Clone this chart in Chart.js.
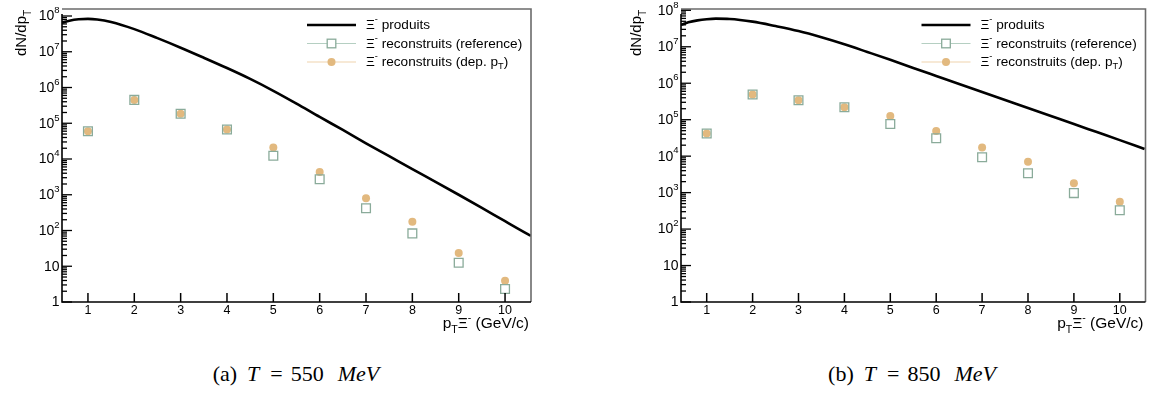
<!DOCTYPE html>
<html>
<head>
<meta charset="utf-8">
<script src="https://cdn.jsdelivr.net/npm/chart.js@4.4.0/dist/chart.umd.min.js"></script>
<style>
  body { margin: 0; background: #fff; width: 1153px; height: 394px; position: relative; overflow: hidden; font-family: "Liberation Sans", Arial, sans-serif; }
  .panel { position: absolute; top: 0; height: 340px; }
  #pa { left: 0; width: 560px; }
  #pb { left: 580px; width: 573px; }
  .cap { position: absolute; top: 361px; font-family: "Liberation Serif", "Times New Roman", serif; font-size: 22px; transform: translateX(-50%); white-space: nowrap; color: #000; }
  .cap i { font-style: italic; }
</style>
</head>
<body>
<div class="panel" id="pa"><canvas id="ca"></canvas></div>
<div class="panel" id="pb"><canvas id="cb"></canvas></div>
<div class="cap" style="left:296px"><span>(a)</span><i style="margin-left:10px">T</i><span style="margin-left:11px">=</span><span style="margin-left:8px">550</span><i style="margin-left:14px">MeV</i></div>
<div class="cap" style="left:912px"><span>(b)</span><i style="margin-left:10px">T</i><span style="margin-left:11px">=</span><span style="margin-left:8px">850</span><i style="margin-left:14px">MeV</i></div>
<script>
// p_T bins of the reconstructed points
const ptX = [1, 2, 3, 4, 5, 6, 7, 8, 9, 10];

// T = 550 MeV
const refA = [6.0e4, 4.5e5, 1.85e5, 6.7e4, 1.23e4, 2.7e3, 420, 83, 12.6, 2.3];
const depA = [6.0e4, 4.5e5, 1.85e5, 6.7e4, 2.1e4, 4.3e3, 800, 176, 23.5, 3.9];
const curveXA = [0.44, 0.6, 0.8, 1.0, 1.2, 1.5, 2, 2.5, 3, 3.5, 4, 4.5, 5, 5.5, 6, 6.5, 7, 7.5, 8, 8.5, 9, 9.5, 10, 10.5, 10.56];
const curveA = [6.5e7, 7.4e7, 8.1e7, 8.3e7, 8.0e7, 6.8e7, 4.3e7, 2.4e7, 1.3e7, 6.8e6, 3.5e6, 1.74e6, 8.1e5, 3.55e5, 1.5e5, 6.5e4, 2.75e4, 1.2e4, 5.2e3, 2.3e3, 1.0e3, 430, 182, 78, 71];

// T = 850 MeV
const refB = [4.2e4, 4.9e5, 3.4e5, 2.2e5, 7.6e4, 3.1e4, 9.3e3, 3.4e3, 970, 330];
const depB = [4.2e4, 4.9e5, 3.4e5, 2.2e5, 1.26e5, 4.9e4, 1.74e4, 7.0e3, 1.8e3, 560];
const curveXB = [0.44, 0.6, 0.8, 1.0, 1.2, 1.5, 2, 2.5, 3, 3.5, 4, 4.5, 5, 5.5, 6, 6.5, 7, 7.5, 8, 8.5, 9, 9.5, 10, 10.54];
const curveB = [4.0e7, 4.7e7, 5.3e7, 5.7e7, 5.9e7, 5.8e7, 4.9e7, 3.7e7, 2.7e7, 1.82e7, 1.17e7, 7.2e6, 4.4e6, 2.63e6, 1.58e6, 9.5e5, 5.75e5, 3.47e5, 2.09e5, 1.26e5, 7.6e4, 4.57e4, 2.75e4, 1.58e4];

// axes
const xTicks = [1, 2, 3, 4, 5, 6, 7, 8, 9, 10];
const yDecades = [0, 1, 2, 3, 4, 5, 6, 7, 8];
const legendLabels = [" produits", " reconstruits (reference)", " reconstruits (dep. p"];

const REF_COLOR = "#8aab9a";
const DEP_COLOR = "#e2b97f";

// draw text pieces with sup/sub parts
function rich(ctx, parts, x, y, size, align) {
  const w = parts.reduce((s, p) => {
    ctx.font = (p.s ? size * 0.68 : size) + "px 'Liberation Sans', Arial, sans-serif";
    return s + ctx.measureText(p.t).width;
  }, 0);
  let cx = align === "right" ? x - w : align === "center" ? x - w / 2 : x;
  ctx.textAlign = "left";
  for (const p of parts) {
    ctx.font = (p.s ? size * 0.68 : size) + "px 'Liberation Sans', Arial, sans-serif";
    const dy = p.s === "sup" ? -size * 0.42 : p.s === "sub" ? size * 0.3 : 0;
    ctx.fillText(p.t, cx, y + dy);
    cx += ctx.measureText(p.t).width;
  }
  return w;
}

const rootAxes = {
  id: "rootAxes",
  afterDraw(chart) {
    const { ctx, chartArea: a, scales: { x, y } } = chart;
    ctx.save();
    ctx.fillStyle = "#000";

    // frame
    ctx.lineWidth = 1.6;
    ctx.strokeStyle = "#6b6b6b";
    ctx.beginPath();
    ctx.moveTo(a.left, a.top); ctx.lineTo(a.right, a.top); ctx.lineTo(a.right, a.bottom);
    ctx.stroke();
    ctx.strokeStyle = "#000";
    ctx.beginPath();
    ctx.moveTo(a.left, a.top + 5); ctx.lineTo(a.left, a.bottom); ctx.lineTo(a.right, a.bottom);
    ctx.stroke();

    // x ticks + labels
    ctx.lineWidth = 1.5;
    ctx.textBaseline = "middle";
    for (const v of xTicks) {
      const px = x.getPixelForValue(v);
      ctx.beginPath(); ctx.moveTo(px, a.bottom); ctx.lineTo(px, a.bottom - 9); ctx.stroke();
      rich(ctx, [{ t: String(v) }], px, a.bottom + 8.5, 12.5, "center");
    }

    // y ticks (major + minor) + labels
    const yMax = y.max;
    ctx.lineWidth = 1.3;
    for (const d of yDecades) {
      const base = Math.pow(10, d);
      const py = y.getPixelForValue(base);
      ctx.beginPath(); ctx.moveTo(a.left, py); ctx.lineTo(a.left + 10, py); ctx.stroke();
      for (let m = 2; m <= 9; m++) {
        const v = m * base;
        if (v > yMax) break;
        const pm = y.getPixelForValue(v);
        ctx.beginPath(); ctx.moveTo(a.left, pm); ctx.lineTo(a.left + 5, pm); ctx.stroke();
      }
      const parts = d === 0 ? [{ t: "1" }] : d === 1 ? [{ t: "10" }] : [{ t: "10" }, { t: String(d), s: "sup" }];
      rich(ctx, parts, a.left - 2.5, py + 0.5, 14, "right");
    }

    // axis titles
    ctx.textBaseline = "alphabetic";
    rich(ctx, [{ t: "p" }, { t: "T", s: "sub" }, { t: "Ξ" }, { t: "-", s: "sup" }, { t: " (GeV/c)" }], a.right - 2, a.bottom + 26, 15.5, "right");
    ctx.save();
    ctx.translate(chart.options.yTitleX, 56);
    ctx.rotate(-Math.PI / 2);
    rich(ctx, [{ t: "dN/dp" }, { t: "T", s: "sub" }], 0, 5, 15, "left");
    ctx.restore();

    // legend
    const lx = a.right - 224, tx = a.right - 165;
    const rows = [25, 43.5, 62];
    rows.forEach((ry, i) => {
      ctx.beginPath();
      if (i === 0) { ctx.strokeStyle = "#000"; ctx.lineWidth = 2.6; }
      else if (i === 1) { ctx.strokeStyle = "#b5cfc2"; ctx.lineWidth = 1.2; }
      else { ctx.strokeStyle = "#f0d4ad"; ctx.lineWidth = 1.2; }
      ctx.moveTo(lx, ry); ctx.lineTo(lx + 49, ry); ctx.stroke();
      const mx = lx + 24.5;
      if (i === 1) {
        ctx.fillStyle = "#fff"; ctx.fillRect(mx - 4.3, ry - 4.3, 8.6, 8.6);
        ctx.strokeStyle = REF_COLOR; ctx.lineWidth = 1.3; ctx.strokeRect(mx - 4.3, ry - 4.3, 8.6, 8.6);
      } else if (i === 2) {
        ctx.fillStyle = DEP_COLOR; ctx.beginPath(); ctx.arc(mx, ry, 4, 0, Math.PI * 2); ctx.fill();
      }
      ctx.fillStyle = "#000";
      ctx.textBaseline = "middle";
      const parts = [{ t: "Ξ" }, { t: "-", s: "sup" }, { t: legendLabels[i] }];
      if (i === 2) parts.push({ t: "T", s: "sub" }, { t: ")" });
      rich(ctx, parts, tx, ry + 0.5, 13.6, "left");
    });
    ctx.restore();
  }
};

function makePanel(id, pad, yMax, yTitleX, ref, dep, cx, cy) {
  return new Chart(document.getElementById(id), {
    type: "scatter",
    data: {
      datasets: [
        { label: "produits", type: "line", data: cx.map((v, i) => ({ x: v, y: cy[i] })),
          borderColor: "#000", borderWidth: 2.6, pointRadius: 0, cubicInterpolationMode: "monotone", fill: false, order: 2 },
        { label: "dep", data: ptX.map((v, i) => ({ x: v, y: dep[i] })),
          pointStyle: "circle", pointRadius: 4, backgroundColor: DEP_COLOR, borderWidth: 0, order: 1 },
        { label: "ref", data: ptX.map((v, i) => ({ x: v, y: ref[i] })),
          pointStyle: "rect", pointRadius: 6.2, backgroundColor: "rgba(0,0,0,0)", borderColor: REF_COLOR, borderWidth: 1.3, order: 0 },
      ],
    },
    options: {
      responsive: true, maintainAspectRatio: false, animation: false,
      yTitleX,
      layout: { padding: pad },
      scales: {
        x: { type: "linear", min: 0.44, max: 10.56, display: false },
        y: { type: "logarithmic", min: 1, max: yMax, display: false },
      },
      plugins: { legend: { display: false }, tooltip: { enabled: false } },
    },
    plugins: [rootAxes],
  });
}

makePanel("ca", { left: 62, top: 9, right: 29, bottom: 38 }, Math.pow(10, 8.196), 21, refA, depA, curveXA, curveA);
makePanel("cb", { left: 101, top: 9, right: 4, bottom: 38 }, Math.pow(10, 8.036), 56, refB, depB, curveXB, curveB);
</script>
</body>
</html>
